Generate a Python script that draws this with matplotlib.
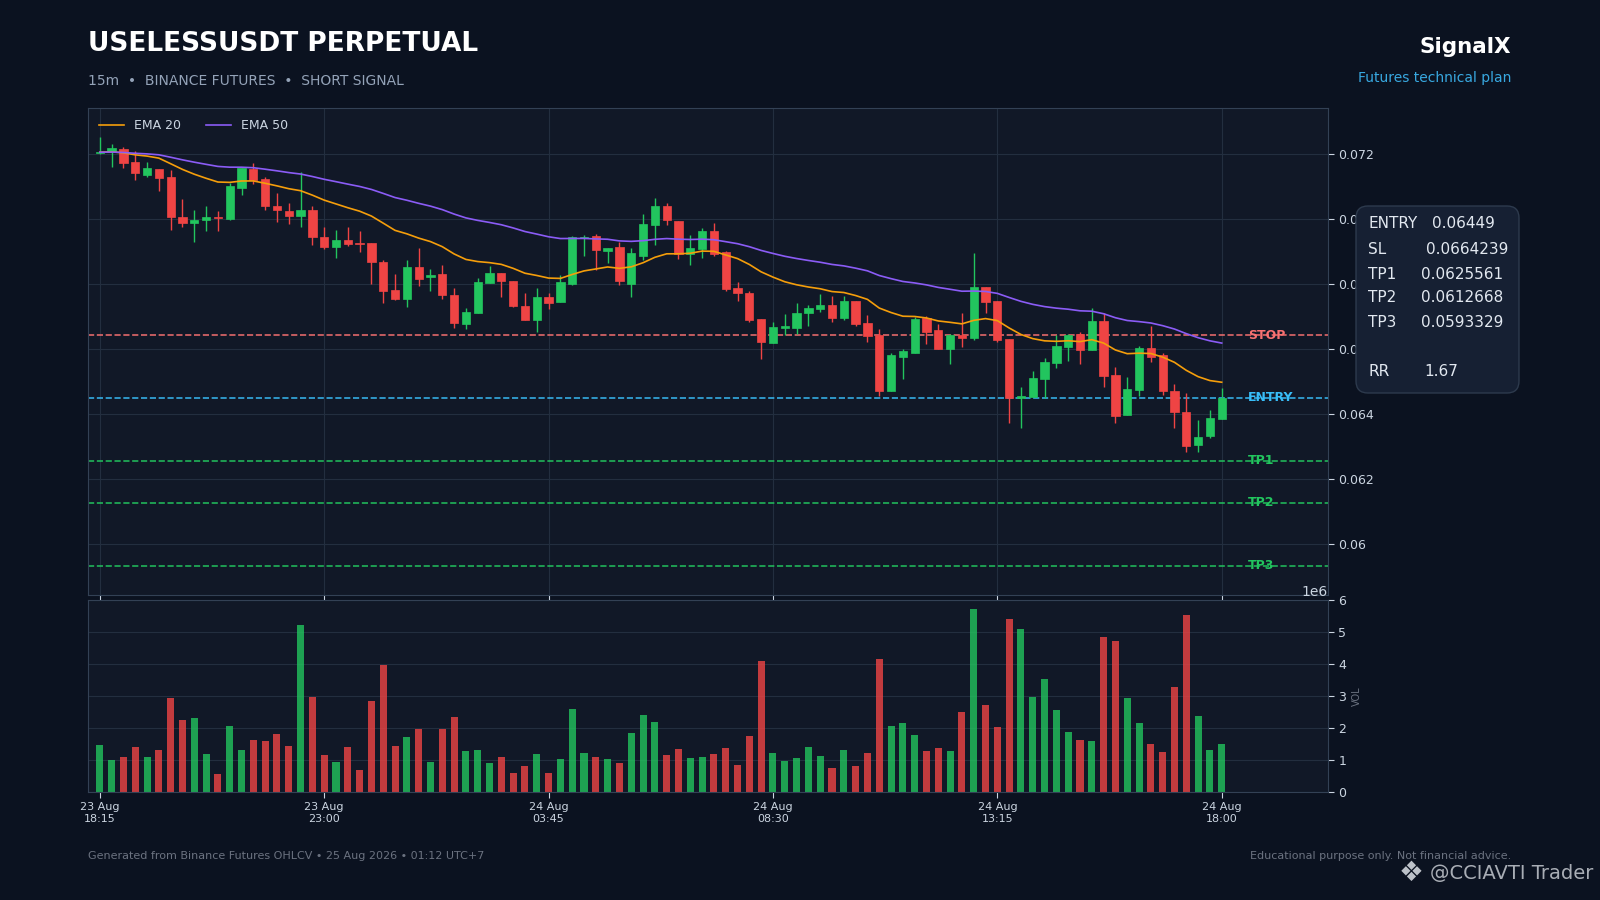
import matplotlib
matplotlib.use("agg")
import matplotlib.pyplot as plt
from matplotlib.patches import FancyBboxPatch
from matplotlib.ticker import FuncFormatter
import numpy as np
import pandas as pd

# 15m candles, 23 Aug 18:15 -> 24 Aug 18:00 (96 bars)
opens = [0.07203, 0.07205, 0.07214, 0.07175, 0.07135, 0.07153, 0.07128, 0.07006, 0.06986, 0.06995,
         0.07006, 0.07000, 0.07096, 0.07154, 0.07123, 0.07040, 0.07025, 0.07010, 0.07028, 0.06945,
         0.06912, 0.06935, 0.06925, 0.06926, 0.06868, 0.06782, 0.06754, 0.06852, 0.06820, 0.06831,
         0.06766, 0.06677, 0.06709, 0.06803, 0.06834, 0.06809, 0.06733, 0.06690, 0.06761, 0.06743,
         0.06801, 0.06941, 0.06948, 0.06902, 0.06913, 0.06801, 0.06887, 0.06980, 0.07040, 0.06994,
         0.06892, 0.06908, 0.06963, 0.06897, 0.06786, 0.06773, 0.06691, 0.06619, 0.06665, 0.06665,
         0.06710, 0.06722, 0.06734, 0.06694, 0.06746, 0.06679, 0.06642, 0.06472, 0.06576, 0.06588,
         0.06696, 0.06657, 0.06599, 0.06642, 0.06632, 0.06790, 0.06748, 0.06630, 0.06448, 0.06452,
         0.06507, 0.06556, 0.06607, 0.06645, 0.06597, 0.06685, 0.06520, 0.06398, 0.06475, 0.06602,
         0.06581, 0.06471, 0.06405, 0.06303, 0.06331, 0.06383]
highs = [0.07253, 0.07230, 0.07220, 0.07210, 0.07176, 0.07153, 0.07149, 0.07061, 0.07026, 0.07041,
         0.07023, 0.07110, 0.07157, 0.07171, 0.07130, 0.07078, 0.07050, 0.07143, 0.07040, 0.06976,
         0.06965, 0.06974, 0.06962, 0.06926, 0.06873, 0.06830, 0.06873, 0.06910, 0.06845, 0.06859,
         0.06787, 0.06725, 0.06817, 0.06854, 0.06834, 0.06809, 0.06771, 0.06786, 0.06772, 0.06827,
         0.06946, 0.06950, 0.06953, 0.06910, 0.06929, 0.06910, 0.07014, 0.07063, 0.07048, 0.06994,
         0.06949, 0.06971, 0.06987, 0.06900, 0.06806, 0.06778, 0.06693, 0.06683, 0.06708, 0.06742,
         0.06734, 0.06770, 0.06764, 0.06764, 0.06746, 0.06705, 0.06660, 0.06587, 0.06601, 0.06698,
         0.06702, 0.06678, 0.06647, 0.06709, 0.06896, 0.06790, 0.06748, 0.06630, 0.06484, 0.06533,
         0.06571, 0.06642, 0.06647, 0.06651, 0.06727, 0.06709, 0.06543, 0.06515, 0.06610, 0.06671,
         0.06586, 0.06491, 0.06464, 0.06380, 0.06412, 0.06479]
lows = [0.07200, 0.07159, 0.07156, 0.07119, 0.07130, 0.07087, 0.06965, 0.06974, 0.06928, 0.06962,
        0.06962, 0.06996, 0.07073, 0.07107, 0.07026, 0.06990, 0.06983, 0.06974, 0.06921, 0.06908,
        0.06880, 0.06918, 0.06897, 0.06800, 0.06742, 0.06750, 0.06729, 0.06795, 0.06777, 0.06755,
        0.06663, 0.06660, 0.06709, 0.06803, 0.06759, 0.06730, 0.06689, 0.06651, 0.06723, 0.06743,
        0.06798, 0.06887, 0.06844, 0.06864, 0.06796, 0.06760, 0.06872, 0.06919, 0.06981, 0.06875,
        0.06858, 0.06880, 0.06886, 0.06778, 0.06747, 0.06684, 0.06568, 0.06619, 0.06642, 0.06647,
        0.06671, 0.06714, 0.06684, 0.06690, 0.06670, 0.06620, 0.06456, 0.06472, 0.06506, 0.06588,
        0.06615, 0.06599, 0.06555, 0.06605, 0.06627, 0.06709, 0.06622, 0.06372, 0.06358, 0.06452,
        0.06450, 0.06541, 0.06564, 0.06555, 0.06597, 0.06482, 0.06372, 0.06398, 0.06456, 0.06561,
        0.06458, 0.06358, 0.06283, 0.06283, 0.06326, 0.06383]
closes = [0.07205, 0.07217, 0.07173, 0.07140, 0.07156, 0.07127, 0.07006, 0.06986, 0.06997, 0.07006,
          0.07004, 0.07102, 0.07157, 0.07118, 0.07041, 0.07026, 0.07010, 0.07028, 0.06943, 0.06912,
          0.06935, 0.06923, 0.06923, 0.06866, 0.06779, 0.06754, 0.06853, 0.06816, 0.06828, 0.06766,
          0.06680, 0.06714, 0.06807, 0.06834, 0.06809, 0.06732, 0.06690, 0.06760, 0.06742, 0.06807,
          0.06944, 0.06944, 0.06903, 0.06910, 0.06808, 0.06896, 0.06985, 0.07040, 0.06995, 0.06893,
          0.06910, 0.06964, 0.06893, 0.06783, 0.06772, 0.06688, 0.06621, 0.06667, 0.06671, 0.06709,
          0.06725, 0.06734, 0.06694, 0.06746, 0.06676, 0.06640, 0.06472, 0.06581, 0.06593, 0.06692,
          0.06651, 0.06599, 0.06642, 0.06632, 0.06790, 0.06745, 0.06628, 0.06449, 0.06454, 0.06511,
          0.06560, 0.06609, 0.06642, 0.06597, 0.06685, 0.06518, 0.06395, 0.06477, 0.06602, 0.06576,
          0.06469, 0.06407, 0.06300, 0.06330, 0.06388, 0.06449]
# volume in millions
volumes_m = [1.48, 1.00, 1.10, 1.42, 1.10, 1.32, 2.95, 2.26, 2.32, 1.20,
             0.57, 2.07, 1.32, 1.64, 1.60, 1.82, 1.45, 5.23, 2.98, 1.17,
             0.95, 1.42, 0.70, 2.85, 3.98, 1.45, 1.73, 1.98, 0.95, 1.98,
             2.35, 1.29, 1.32, 0.92, 1.10, 0.60, 0.82, 1.20, 0.60, 1.04,
             2.60, 1.23, 1.10, 1.04, 0.92, 1.85, 2.42, 2.20, 1.17, 1.35,
             1.07, 1.10, 1.20, 1.39, 0.85, 1.76, 4.10, 1.23, 0.98, 1.07,
             1.42, 1.14, 0.76, 1.32, 0.82, 1.23, 4.17, 2.07, 2.17, 1.79,
             1.29, 1.39, 1.29, 2.51, 5.73, 2.73, 2.04, 5.42, 5.10, 2.98,
             3.54, 2.57, 1.89, 1.64, 1.60, 4.85, 4.73, 2.95, 2.17, 1.51,
             1.26, 3.29, 5.54, 2.39, 1.32, 1.51]

tick_labels = ["23 Aug\n18:15", "23 Aug\n23:00", "24 Aug\n03:45",
               "24 Aug\n08:30", "24 Aug\n13:15", "24 Aug\n18:00"]

entry = 0.06449
stop = 0.0664239
tps = [0.0625561, 0.0612668, 0.0593329]
rr = 1.67

BG = "#0b1220"
PANEL = "#111827"
GRID = "#232e3f"
SPINE = "#334155"
TXT = "#cbd5e1"
GREEN = "#22c55e"
RED = "#ef4444"

o = np.array(opens)
h = np.array(highs)
l = np.array(lows)
c = np.array(closes)
vol = np.array(volumes_m) * 1e6
n = len(c)
x = np.arange(n)
up = c >= o
colors = np.where(up, GREEN, RED)

ema20 = pd.Series(c).ewm(span=20, adjust=False).mean()
ema50 = pd.Series(c).ewm(span=50, adjust=False).mean()

fig = plt.figure(figsize=(16, 9), dpi=100, facecolor=BG)
ax = fig.add_axes([0.055, 0.3389, 0.775, 0.5411])
axv = fig.add_axes([0.055, 0.12, 0.775, 0.2133], sharex=ax)

for a in (ax, axv):
    a.set_facecolor(PANEL)
    for s in a.spines.values():
        s.set_color(SPINE)
    a.yaxis.tick_right()
    a.tick_params(colors=TXT, labelsize=9, length=4)
    a.tick_params(axis="x", labelsize=8)

# candles
ax.vlines(x, l, h, colors=colors, lw=1.0, zorder=2)
body = np.maximum(np.abs(c - o), 0.00002)
ax.bar(x, body, bottom=np.minimum(o, c), width=0.7, color=colors,
       edgecolor=colors, lw=0.5, zorder=3)

ax.plot(x, ema20, color="#f59e0b", lw=1.2, label="EMA 20", zorder=4)
ax.plot(x, ema50, color="#8b5cf6", lw=1.2, label="EMA 50", zorder=4)

levels = [("STOP", stop, "#f87171"), ("ENTRY", entry, "#38bdf8"),
          ("TP1", tps[0], GREEN), ("TP2", tps[1], GREEN), ("TP3", tps[2], GREEN)]
for name, val, col in levels:
    ax.axhline(val, color=col, ls="--", lw=1.2, alpha=0.9, zorder=1)
    ax.text(n + 1.25, val, name, color=col, fontsize=9, fontweight="bold",
            ha="left", va="center", zorder=5)

ax.set_xlim(-1, n + 8)
ax.set_ylim(0.05843, 0.07341)
ax.yaxis.set_major_formatter(FuncFormatter(lambda v, _: f"{v:g}"))
ax.grid(color=GRID, lw=0.8)
ax.set_axisbelow(True)
ax.tick_params(axis="x", labelbottom=False)
leg = ax.legend(loc="upper left", ncol=2, frameon=False, fontsize=9)
for t in leg.get_texts():
    t.set_color(TXT)

# volume
axv.bar(x, vol, width=0.6, color=colors, alpha=0.8, zorder=2)
axv.set_ylim(0, 6e6)
axv.grid(axis="y", color=GRID, lw=0.8)
axv.set_axisbelow(True)
axv.yaxis.set_label_position("right")
axv.set_ylabel("VOL", color="#6b7280", fontsize=7)
axv.yaxis.set_offset_position("right")
axv.yaxis.get_offset_text().set_color(TXT)
axv.yaxis.get_offset_text().set_fontsize(10)
axv.set_xticks(range(0, n, 19))
axv.set_xticklabels(tick_labels)

# header
fig.text(0.055, 0.951, "USELESSUSDT PERPETUAL", color="white", fontsize=19,
         fontweight="bold", va="center")
fig.text(0.055, 0.910, "15m  •  BINANCE FUTURES  •  SHORT SIGNAL",
         color="#94a3b8", fontsize=10, va="center")
fig.text(0.9444, 0.948, "SignalX", color="white", fontsize=15.5,
         fontweight="bold", ha="right", va="center")
fig.text(0.9444, 0.9133, "Futures technical plan", color="#38a8e0",
         fontsize=10, ha="right", va="center")

# trade plan box
box = FancyBboxPatch((13.56, 5.07), 1.63, 1.87,
                     boxstyle="round,pad=0,rounding_size=0.12",
                     transform=fig.dpi_scale_trans, fc="#162033",
                     ec="#2d3a4d", lw=1, zorder=5)
fig.add_artist(box)
rows = [("ENTRY", f"{entry}", 224, 1432), ("SL", f"{stop}", 249, 1426),
        ("TP1", f"{tps[0]}", 274, 1421), ("TP2", f"{tps[1]}", 298, 1421),
        ("TP3", f"{tps[2]}", 323, 1421), ("RR", f"{rr}", 372, 1424)]
for lab, val, ypx, xv in rows:
    fig.text(1368 / 1600, 1 - ypx / 900, lab, color="#e2e8f0", fontsize=11,
             va="center", zorder=6)
    fig.text(xv / 1600, 1 - ypx / 900, val, color="#e2e8f0", fontsize=11,
             va="center", zorder=6)

# footer
fig.text(0.055, 1 - 856 / 900,
         "Generated from Binance Futures OHLCV • 25 Aug 2026 • 01:12 UTC+7",
         color="#6b7280", fontsize=8, va="center")
fig.text(0.9444, 1 - 856 / 900, "Educational purpose only. Not financial advice.",
         color="#6b7280", fontsize=8, ha="right", va="center")

# watermark
fig.text(1411 / 1600, 1 - 873 / 900, "❖", color="#d1d5db", fontsize=20,
         ha="center", va="center", alpha=0.9)
fig.text(1430 / 1600, 1 - 873 / 900, "@CCIAVTI Trader", color="#d1d5db",
         fontsize=14, va="center", alpha=0.8)

fig.savefig("out.png", facecolor=BG)
